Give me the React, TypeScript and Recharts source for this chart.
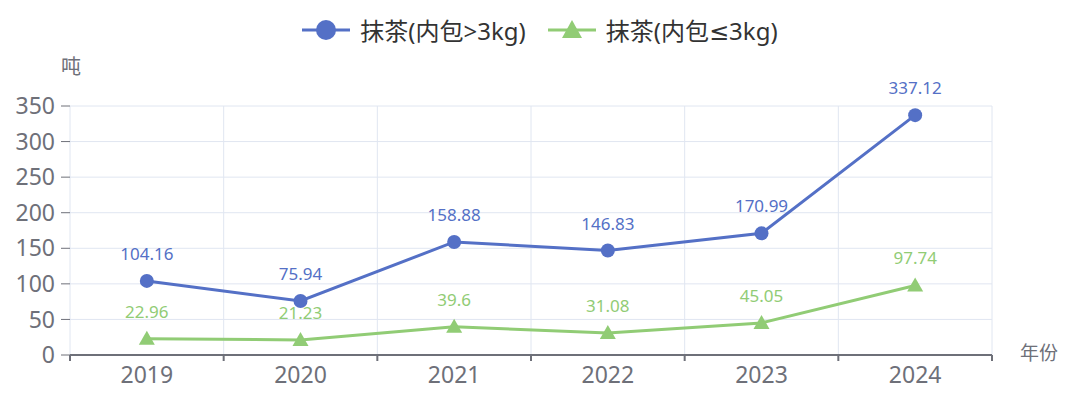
import { LineChart, Line, XAxis, YAxis, CartesianGrid, LabelList } from 'recharts';

// reset default page margin so the chart sits at 0,0
document.body.style.margin = '0';

const YEARS = ['2019', '2020', '2021', '2022', '2023', '2024'];
const BIG_PACK = [104.16, 75.94, 158.88, 146.83, 170.99, 337.12];
const SMALL_PACK = [22.96, 21.23, 39.6, 31.08, 45.05, 97.74];
const Y_TICKS = [0, 50, 100, 150, 200, 250, 300, 350];
const BOUNDARY_TICKS = [0, 1, 2, 3, 4, 5, 6];

const BLUE = '#5470c6';
const GREEN = '#91cc75';
const AXIS = '#6e7079';
const GRID = '#e0e6f1';
const FONT = '"Noto Sans", "DejaVu Sans", "Noto Sans CJK SC", sans-serif';

// slot = category centre on the boundary axis (0..6)
const data = YEARS.map((year, i) => ({ year, slot: i + 0.5, big: BIG_PACK[i], small: SMALL_PACK[i] }));

function TriangleDot(props: any) {
  const { cx, cy } = props;
  if (cx == null || cy == null) return null;
  return <path d={`M${cx},${cy - 8} L${cx + 8},${cy + 6} L${cx - 8},${cy + 6} Z`} fill={GREEN} />;
}

const EmptyTick = () => <g />;

function LegendItem({ color, shape, text }: { color: string; shape: 'circle' | 'triangle'; text: string }) {
  return (
    <div style={{ display: 'flex', alignItems: 'center', gap: 10 }}>
      <svg width={48} height={22}>
        <line x1={0} y1={11} x2={48} y2={11} stroke={color} strokeWidth={3} />
        {shape === 'circle' ? (
          <circle cx={24} cy={11} r={10} fill={color} />
        ) : (
          <path d="M24,1 L34,19 L14,19 Z" fill={color} />
        )}
      </svg>
      <span style={{ fontSize: 24, color: '#333' }}>{text}</span>
    </div>
  );
}

export default function App() {
  return (
    <div style={{ position: 'relative', width: 1080, height: 395, fontFamily: FONT, background: '#fff' }}>
      <div
        style={{
          position: 'absolute',
          top: 12,
          left: 0,
          width: 1080,
          display: 'flex',
          justifyContent: 'center',
          gap: 22,
        }}
      >
        <LegendItem color={BLUE} shape="circle" text="抹茶(内包>3kg)" />
        <LegendItem color={GREEN} shape="triangle" text="抹茶(内包≤3kg)" />
      </div>
      <div style={{ position: 'absolute', left: 61, top: 51, fontSize: 20, color: AXIS }}>吨</div>
      <div style={{ position: 'absolute', left: 1020, top: 338, fontSize: 19, color: AXIS }}>年份</div>
      <LineChart
        width={1080}
        height={395}
        data={data}
        margin={{ top: 106, right: 88, bottom: 5, left: 0 }}
        style={{ fontFamily: FONT }}
      >
        <CartesianGrid stroke={GRID} />
        {/* boundary axis: axis line, tick marks and vertical grid between categories */}
        <XAxis
          dataKey="slot"
          type="number"
          domain={[0, 6]}
          allowDataOverflow
          ticks={BOUNDARY_TICKS}
          height={1}
          tick={EmptyTick}
          axisLine={{ stroke: AXIS, strokeWidth: 2 }}
          tickLine={{ stroke: AXIS, strokeWidth: 2 }}
          tickSize={6}
        />
        <XAxis
          xAxisId="year"
          dataKey="year"
          scale="band"
          height={34}
          axisLine={false}
          tickLine={false}
          tickSize={0}
          tickMargin={11}
          tick={{ fill: AXIS, fontSize: 23 }}
        />
        <YAxis
          width={70}
          domain={[0, 350]}
          ticks={Y_TICKS}
          axisLine={false}
          tickLine={{ stroke: AXIS }}
          tickSize={9}
          tickMargin={6}
          tick={{ fill: AXIS, fontSize: 23 }}
        />
        <Line
          xAxisId="year"
          dataKey="big"
          stroke={BLUE}
          strokeWidth={3}
          dot={{ r: 7, fill: BLUE, stroke: BLUE, strokeWidth: 0 }}
          activeDot={false}
          isAnimationActive={false}
        >
          <LabelList dataKey="big" position="top" offset={21} fill={BLUE} fontSize={17} />
        </Line>
        <Line
          xAxisId="year"
          dataKey="small"
          stroke={GREEN}
          strokeWidth={3}
          dot={<TriangleDot />}
          activeDot={false}
          isAnimationActive={false}
        >
          <LabelList dataKey="small" position="top" offset={21} fill={GREEN} fontSize={17} />
        </Line>
      </LineChart>
    </div>
  );
}
